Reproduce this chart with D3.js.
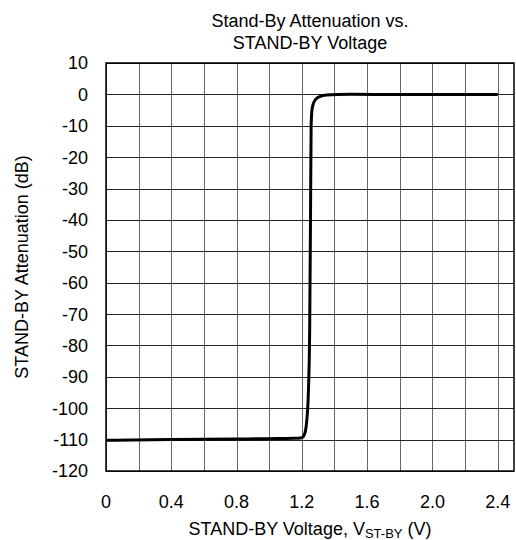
<!DOCTYPE html>
<html>
<head>
<meta charset="utf-8">
<script src="https://cdn.jsdelivr.net/npm/d3@7"></script>
<style>
  body { margin: 0; background: #fff; }
  text { font-family: "Liberation Sans", Arial, sans-serif; fill: #000; }
</style>
</head>
<body>
<div id="chart"></div>
<script>
// curve: voltage (V) and attenuation (dB)
const volts = [0, 0.4, 0.8, 1.0, 1.15, 1.2, 1.215, 1.23, 1.24, 1.248, 1.253, 1.257, 1.262, 1.27, 1.285, 1.31, 1.35, 1.42, 1.5, 1.8, 2.1, 2.4];
const atten = [-110.2, -110, -109.8, -109.7, -109.6, -109.4, -108.5, -104, -95, -75, -40, -10, -5, -3, -1.6, -0.7, -0.2, 0, 0.05, -0.05, -0.05, 0];
const xTicks = [0, 0.4, 0.8, 1.2, 1.6, 2.0, 2.4];
const xGrid = d3.range(0, 2.5, 0.2);
const yTicks = d3.range(10, -121, -10);

function setup() {
  const width = 516, height = 540;
  const margin = {top: 63, right: 2, bottom: 69, left: 106};
  const svg = d3.select("#chart").append("svg")
    .attr("width", width)
    .attr("height", height);

  const x = d3.scaleLinear().domain([0, 2.5]).range([margin.left, width - margin.right]);
  const y = d3.scaleLinear().domain([10, -120]).range([margin.top, height - margin.bottom]);

  // grid
  svg.append("g").selectAll("line")
    .data(xGrid)
    .enter().append("line")
    .attr("x1", d => Math.round(x(d)) + 0.5).attr("x2", d => Math.round(x(d)) + 0.5)
    .attr("y1", y(10)).attr("y2", y(-120))
    .attr("stroke", "#666").attr("stroke-width", 1);
  svg.append("g").selectAll("line")
    .data(yTicks)
    .enter().append("line")
    .attr("x1", x(0)).attr("x2", x(2.5))
    .attr("y1", d => Math.round(y(d)) + 0.5).attr("y2", d => Math.round(y(d)) + 0.5)
    .attr("stroke", "#222").attr("stroke-width", 1);

  // frame
  svg.append("rect")
    .attr("x", x(0)).attr("y", y(10))
    .attr("width", x(2.5) - x(0)).attr("height", y(-120) - y(10))
    .attr("fill", "none").attr("stroke", "#000").attr("stroke-width", 1.5);

  // tick labels
  svg.append("g").selectAll("text")
    .data(yTicks)
    .enter().append("text")
    .attr("x", x(0) - 18).attr("y", d => y(d))
    .attr("dy", "0.36em").attr("text-anchor", "end")
    .style("font-size", "18px")
    .text(d => d);
  svg.append("g").selectAll("text")
    .data(xTicks)
    .enter().append("text")
    .attr("x", d => x(d)).attr("y", 508)
    .attr("text-anchor", "middle")
    .style("font-size", "18px")
    .text(d => d === 0 ? "0" : d.toFixed(1));

  // curve
  const pts = volts.map((v, i) => [v, atten[i]]);
  svg.append("path")
    .datum(pts)
    .attr("fill", "none").attr("stroke", "#000").attr("stroke-width", 3)
    .attr("stroke-linejoin", "round")
    .attr("d", d3.line().x(d => x(d[0])).y(d => y(d[1])).curve(d3.curveMonotoneX));

  // titles
  const title = svg.append("text").attr("text-anchor", "middle").style("font-size", "18px");
  title.append("tspan").attr("x", 310).attr("y", 26.5).text("Stand-By Attenuation vs.");
  title.append("tspan").attr("x", 310).attr("y", 48.5).text("STAND-BY Voltage");

  const xl = svg.append("text").attr("x", 310).attr("y", 535)
    .attr("text-anchor", "middle").style("font-size", "18px");
  xl.append("tspan").text("STAND-BY Voltage, V");
  xl.append("tspan").attr("dy", 3).style("font-size", "13px").text("ST-BY");
  xl.append("tspan").attr("dy", -3).text(" (V)");

  svg.append("text")
    .attr("transform", "translate(28," + ((y(10) + y(-120)) / 2) + ") rotate(-90)")
    .attr("text-anchor", "middle")
    .style("font-size", "18px")
    .text("STAND-BY Attenuation (dB)");
}

document.addEventListener("DOMContentLoaded", setup);
</script>
</body>
</html>
